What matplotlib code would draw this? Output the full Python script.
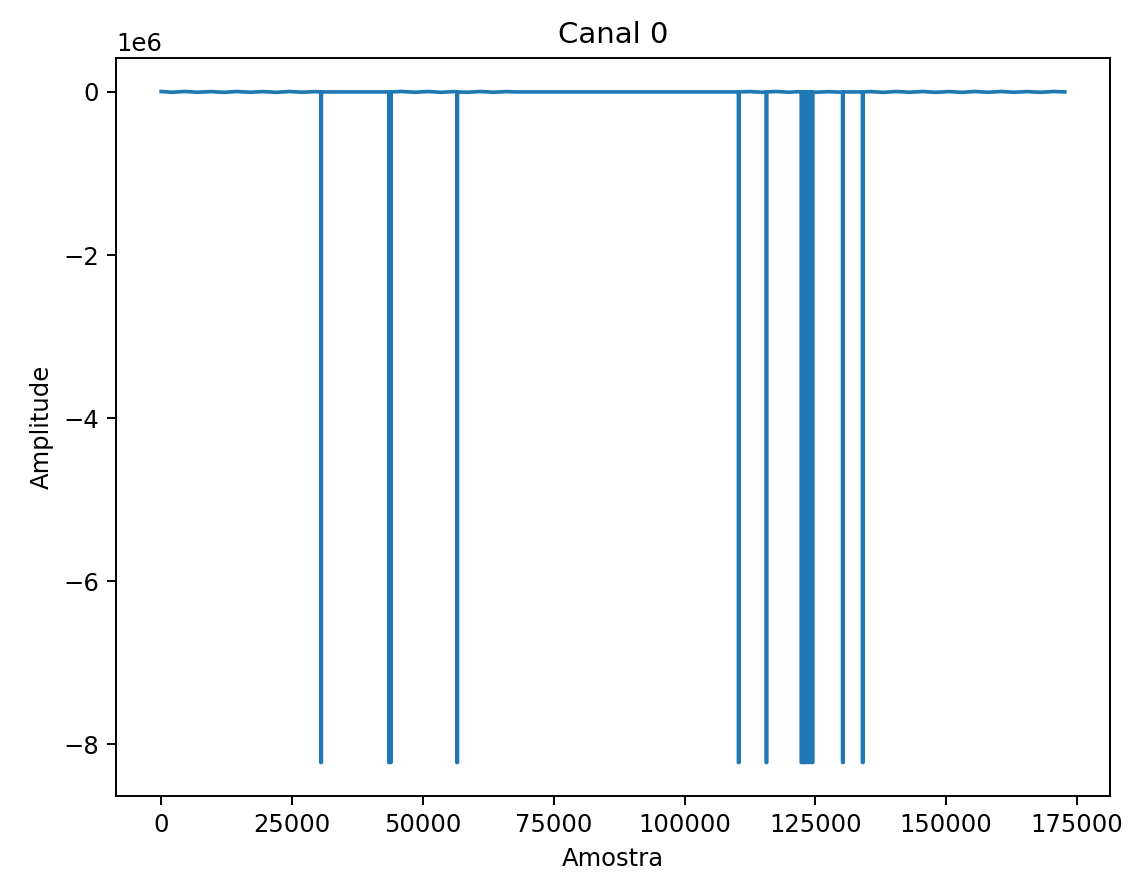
import numpy as np
import matplotlib
matplotlib.use('Agg')
import matplotlib.pyplot as plt

# baseline samples (near zero, small noise bursts)
base_x = [0, 2000, 4500, 7000, 9500, 12000, 14500, 17000, 19500, 22000, 24500, 27000, 29500, 31000,
          43500, 46000, 48500, 51000, 53500, 56000, 58500, 61000, 63500, 66000, 67500,
          110000, 112500, 115000, 117500, 120000, 122000, 125000, 127500, 130000, 133000, 135500,
          138000, 140500, 143000, 145500, 148000, 150500, 153000, 155500, 158000, 160500, 163000,
          165500, 168000, 170500, 172680]
base_y = [5000, -4000, 5000, -4000, 4000, -5000, 5000, -4000, 4000, -5000, 5000, -4000, 4000, 0,
          0, 5000, -4000, 5000, -5000, 4000, -4000, 5000, -4000, 4000, 0,
          0, 4000, -4000, 5000, -4000, 4000, -4000, 3000, -3000, 0, 4000,
          -5000, 5000, -4000, 5000, -5000, 4000, -5000, 5000, -4000, 5000, -4000,
          4000, -5000, 5000, 0]

# glitches going down to the ADC floor
spike_x = [30500, 43500, 43800, 56500, 110300, 115600,
           122300, 122600, 122900, 123300, 123700, 124100, 124400,
           130200, 134000]
spike_depth = [-8220000] * len(spike_x)
SPIKE_W = 120


def buildSignal():
    xs = list(base_x)
    ys = list(base_y)
    for sx, sd in zip(spike_x, spike_depth):
        xs += [sx, sx, sx + SPIKE_W, sx + SPIKE_W]
        ys += [0, sd, sd, 0]
    xs = np.array(xs, dtype=float)
    ys = np.array(ys, dtype=float)
    order = np.argsort(xs, kind='stable')
    return xs[order], ys[order]


def main():
    x, y = buildSignal()
    fig, ax = plt.subplots(figsize=(1137 / 175, 881 / 175), dpi=175)
    fig.subplots_adjust(left=0.102, right=0.9763, top=0.9342, bottom=0.0965)
    ax.plot(x, y)
    ax.set_title('Canal 0')
    ax.set_xlabel('Amostra')
    ax.set_ylabel('Amplitude')
    plt.savefig('out.png', dpi=175)
    plt.close(fig)


if __name__ == "__main__":
    main()
